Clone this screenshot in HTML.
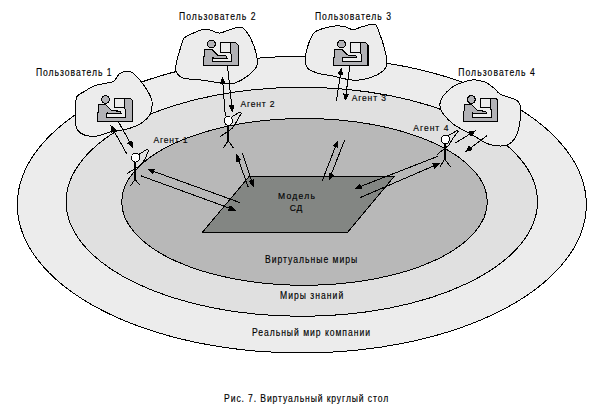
<!DOCTYPE html>
<html><head><meta charset="utf-8">
<style>
html,body{margin:0;padding:0;background:#fff;}
body{width:606px;height:412px;overflow:hidden;position:relative;}
svg{position:absolute;left:0;top:0;}
ellipse,path,line,rect,circle{shape-rendering:crispEdges;}
text{font-family:"Liberation Sans",sans-serif;font-size:10px;fill:#000;stroke:#000;stroke-width:0.15px;}
</style></head><body>
<svg width="606" height="412" viewBox="0 0 606 412">
<defs>
<g id="ic">
<path d="M0.85,-16.6 L7.8,-16.6 L14,-10.5 L22,-10 L23.3,-7.5 L9.7,-7.5 L9.2,-8.4 L8.9,-8 L8.9,-3.6 L27.6,-3.6 L27.6,-11.5 L26.7,-12.5 L26.7,-23 L32.2,-23 L34.5,-20.7 L34.5,0 L0,0 L-0.5,-3 Z" fill="#b2b2b6" stroke="#000" stroke-width="1.1"/>
<rect x="17" y="-23" width="9.7" height="9.5" fill="#ececec" stroke="#000" stroke-width="1.1"/>
<circle cx="7.6" cy="-21.7" r="3.9" fill="#b2b2b6" stroke="#000" stroke-width="1.1"/>
</g>
</defs>
<ellipse cx="301.8" cy="204.65" rx="284.5" ry="148.35" fill="#ececec" stroke="#000" stroke-width="1.0"/>
<ellipse cx="301.8" cy="201.8" rx="235.7" ry="114.5" fill="#e0e0e0" stroke="#000" stroke-width="1.0"/>
<ellipse cx="304.5" cy="201.9" rx="182.8" ry="83.4" fill="#b8b8b8" stroke="#000" stroke-width="1.0"/>
<path d="M249.5,176 L394.5,176 L347.5,232.5 L202.3,232.5 Z" fill="#838683" stroke="#000" stroke-width="1.0"/>
<path d="M124.60,71.40 C122.48,71.70 121.02,72.43 119.20,74.10 C117.38,75.77 115.83,79.88 113.70,81.40 C111.57,82.92 109.73,82.43 106.40,83.20 C103.07,83.97 97.33,84.63 93.70,86.00 C90.07,87.37 87.33,89.73 84.60,91.40 C81.87,93.07 78.82,93.73 77.30,96.00 C75.78,98.27 75.80,100.75 75.50,105.00 C75.20,109.25 75.20,117.38 75.50,121.50 C75.80,125.62 75.78,127.43 77.30,129.70 C78.82,131.97 81.27,134.05 84.60,135.10 C87.93,136.15 92.75,136.60 97.30,136.00 C101.85,135.40 106.73,132.70 111.90,131.50 C117.07,130.30 123.45,130.17 128.30,128.80 C133.15,127.43 137.37,125.73 141.00,123.30 C144.63,120.87 148.27,117.85 150.10,114.20 C151.93,110.55 152.30,105.05 152.00,101.40 C151.70,97.75 150.13,95.63 148.30,92.30 C146.47,88.97 143.73,84.73 141.00,81.40 C138.27,78.07 134.63,73.97 131.90,72.30 C129.17,70.63 126.72,71.10 124.60,71.40 Z" fill="#ececec" stroke="#000" stroke-width="1.0"/>
<path d="M184.10,38.20 C186.22,35.32 188.97,35.12 192.30,33.60 C195.63,32.08 200.77,29.55 204.10,29.10 C207.43,28.65 209.72,30.23 212.30,30.90 C214.88,31.57 216.87,33.25 219.60,33.10 C222.33,32.95 225.67,30.97 228.70,30.00 C231.73,29.03 235.37,27.60 237.80,27.30 C240.23,27.00 241.18,26.38 243.30,28.20 C245.42,30.02 248.38,34.10 250.50,38.20 C252.62,42.30 254.93,48.25 256.00,52.80 C257.07,57.35 257.82,62.02 256.90,65.50 C255.98,68.98 253.08,71.28 250.50,73.70 C247.92,76.12 244.43,78.33 241.40,80.00 C238.37,81.67 235.93,83.23 232.30,83.70 C228.67,84.17 224.75,83.42 219.60,82.80 C214.45,82.18 207.47,80.77 201.40,80.00 C195.33,79.23 187.30,79.40 183.20,78.20 C179.10,77.00 178.02,74.92 176.80,72.80 C175.58,70.68 175.43,69.15 175.90,65.50 C176.37,61.85 178.23,55.45 179.60,50.90 C180.97,46.35 181.98,41.08 184.10,38.20 Z" fill="#ececec" stroke="#000" stroke-width="1.0"/>
<path d="M314.60,32.30 C317.33,29.88 321.87,28.87 325.50,27.80 C329.13,26.73 333.07,26.07 336.40,25.90 C339.73,25.73 342.77,26.18 345.50,26.80 C348.23,27.42 350.07,29.60 352.80,29.60 C355.53,29.60 358.55,27.72 361.90,26.80 C365.25,25.88 370.47,24.25 372.90,24.10 C375.33,23.95 375.30,24.08 376.50,25.90 C377.70,27.72 378.88,31.65 380.10,35.00 C381.32,38.35 382.73,42.05 383.80,46.00 C384.87,49.95 386.20,55.07 386.50,58.70 C386.80,62.33 387.27,65.07 385.60,67.80 C383.93,70.53 380.45,73.12 376.50,75.10 C372.55,77.08 366.45,78.93 361.90,79.70 C357.35,80.47 354.05,80.32 349.20,79.70 C344.35,79.08 337.97,77.07 332.80,76.00 C327.63,74.93 322.45,74.67 318.20,73.30 C313.95,71.93 309.42,70.53 307.30,67.80 C305.18,65.07 305.20,61.15 305.50,56.90 C305.80,52.65 307.58,46.40 309.10,42.30 C310.62,38.20 311.87,34.72 314.60,32.30 Z" fill="#ececec" stroke="#000" stroke-width="1.0"/>
<path d="M460.60,83.10 C456.95,84.38 454.72,85.32 451.80,87.50 C448.88,89.68 445.10,93.30 443.10,96.20 C441.10,99.10 439.80,101.98 439.80,104.90 C439.80,107.82 440.73,110.42 443.10,113.70 C445.47,116.98 449.27,121.15 454.00,124.60 C458.73,128.05 465.67,131.13 471.50,134.40 C477.33,137.67 483.18,142.38 489.00,144.20 C494.82,146.02 502.03,146.38 506.40,145.30 C510.77,144.22 513.02,141.15 515.20,137.70 C517.38,134.25 518.60,129.70 519.50,124.60 C520.40,119.50 520.97,111.10 520.60,107.10 C520.23,103.10 519.30,102.23 517.30,100.60 C515.30,98.97 511.50,98.40 508.60,97.30 C505.70,96.20 502.45,95.63 499.90,94.00 C497.35,92.37 495.85,89.50 493.30,87.50 C490.75,85.50 487.87,83.28 484.60,82.00 C481.33,80.72 477.70,79.62 473.70,79.80 C469.70,79.98 464.25,81.82 460.60,83.10 Z" fill="#ececec" stroke="#000" stroke-width="1.0"/>
<use href="#ic" transform="translate(97.9,121.2) scale(1,1)"/>
<use href="#ic" transform="translate(203.9,65.5) scale(0.99,0.99)"/>
<use href="#ic" transform="translate(334.0,65.2) scale(0.985,0.97)"/>
<use href="#ic" transform="translate(463.8,121.2) scale(0.99,1.0)"/>
<g stroke="#000" stroke-width="1.0" fill="none">
<line x1="126.80" y1="153.80" x2="113.60" y2="130.46"/><path d="M110.40,124.80 L116.70,129.85 L111.48,132.81 Z" fill="#000" stroke="none"/>
<line x1="118.60" y1="122.10" x2="130.12" y2="142.63"/><path d="M133.30,148.30 L127.01,143.23 L132.25,140.29 Z" fill="#000" stroke="none"/>
<line x1="225.30" y1="116.00" x2="222.88" y2="83.18"/><path d="M222.40,76.70 L225.94,83.96 L219.96,84.40 Z" fill="#000" stroke="none"/>
<line x1="227.50" y1="66.50" x2="231.80" y2="105.94"/><path d="M232.50,112.40 L228.71,105.27 L234.67,104.62 Z" fill="#000" stroke="none"/>
<line x1="336.50" y1="100.60" x2="340.45" y2="73.73"/><path d="M341.40,67.30 L343.28,75.16 L337.34,74.28 Z" fill="#000" stroke="none"/>
<line x1="349.90" y1="65.50" x2="345.88" y2="94.76"/><path d="M345.00,101.20 L343.05,93.36 L348.99,94.18 Z" fill="#000" stroke="none"/>
<line x1="240.00" y1="202.60" x2="153.11" y2="171.21"/><path d="M147.00,169.00 L155.07,168.73 L153.03,174.37 Z" fill="#000" stroke="none"/>
<line x1="140.90" y1="175.80" x2="229.89" y2="208.27"/><path d="M236.00,210.50 L227.93,210.75 L229.98,205.11 Z" fill="#000" stroke="none"/>
<line x1="248.30" y1="187.30" x2="238.50" y2="160.12"/><path d="M236.30,154.00 L241.66,160.04 L236.02,162.07 Z" fill="#000" stroke="none"/>
<line x1="242.30" y1="152.70" x2="251.67" y2="181.13"/><path d="M253.70,187.30 L248.50,181.12 L254.20,179.24 Z" fill="#000" stroke="none"/>
<line x1="322.00" y1="181.30" x2="335.65" y2="146.06"/><path d="M338.00,140.00 L338.09,148.08 L332.49,145.91 Z" fill="#000" stroke="none"/>
<line x1="344.70" y1="140.00" x2="331.08" y2="174.65"/><path d="M328.70,180.70 L328.65,172.62 L334.24,174.82 Z" fill="#000" stroke="none"/>
<line x1="437.60" y1="156.40" x2="360.15" y2="186.64"/><path d="M354.10,189.00 L360.00,183.48 L362.18,189.07 Z" fill="#000" stroke="none"/>
<line x1="360.40" y1="197.50" x2="434.33" y2="165.67"/><path d="M440.30,163.10 L434.60,168.82 L432.22,163.31 Z" fill="#000" stroke="none"/>
<line x1="455.30" y1="143.00" x2="470.46" y2="133.70"/><path d="M476.00,130.30 L471.18,136.78 L468.04,131.67 Z" fill="#000" stroke="none"/>
<line x1="486.90" y1="135.80" x2="470.21" y2="148.22"/><path d="M465.00,152.10 L469.23,145.22 L472.81,150.03 Z" fill="#000" stroke="none"/>
</g>
<g stroke="#000" stroke-width="1.0" fill="none">
<path d="M135,162 L135,179.6" stroke-width="1.9"/>
<path d="M135,179.6 L130.3,186.1 M135,179.6 L140.5,185.4 M127.2,173.4 L139.6,166.1 L144.7,159.6 L148.7,150.5 L146.9,149.4 L138.8,154.5"/>
<ellipse cx="135.6" cy="157.6" rx="4" ry="4.5" fill="#fff"/>
<path d="M228.2,125.2 L228.2,140.6" stroke-width="1.9"/>
<path d="M228.2,140.6 L223.2,148.2 M228.2,140.6 L233.6,148.2 M220,136.7 L232,128.5 L237,121 L241.3,113.2 L240,112.1 L232,116.5"/>
<ellipse cx="228.4" cy="120.8" rx="4.1" ry="4.4" fill="#fff"/>
<path d="M444.6,143.7 L444.6,158.8" stroke-width="1.9"/>
<path d="M444.6,158.8 L440.2,166.7 M444.6,158.8 L450.5,166.7 M437.1,154.6 L449,145 L453,138 L458.2,131.5 L457,130.5 L448,135.8"/>
<ellipse cx="445.4" cy="139.4" rx="4" ry="4.25" fill="#fff"/>
</g>
<text transform="translate(35.9,76.4) scale(0.86,1)" x="0" y="0" textLength="87.91" lengthAdjust="spacing">Пользователь 1</text>
<text transform="translate(179,20.2) scale(0.86,1)" x="0" y="0" textLength="89.07" lengthAdjust="spacing">Пользователь 2</text>
<text transform="translate(314.9,20.2) scale(0.86,1)" x="0" y="0" textLength="88.49" lengthAdjust="spacing">Пользователь 3</text>
<text transform="translate(458.2,76.1) scale(0.86,1)" x="0" y="0" textLength="89.07" lengthAdjust="spacing">Пользователь 4</text>
<text transform="translate(153.4,143.2) scale(0.95,1)" x="0" y="0" textLength="35.89" lengthAdjust="spacing" style="font-size:9px">Агент 1</text>
<text transform="translate(240.4,106.6) scale(0.95,1)" x="0" y="0" textLength="36.00" lengthAdjust="spacing" style="font-size:9px">Агент 2</text>
<text transform="translate(351.7,100.6) scale(0.95,1)" x="0" y="0" textLength="36.00" lengthAdjust="spacing" style="font-size:9px">Агент 3</text>
<text transform="translate(413.3,131.4) scale(0.95,1)" x="0" y="0" textLength="36.95" lengthAdjust="spacing" style="font-size:9px">Агент 4</text>
<text transform="translate(277.9,199.1) scale(0.95,1)" x="0" y="0" textLength="39.05" lengthAdjust="spacing" style="font-size:9px">Модель</text>
<text transform="translate(289.8,211.4) scale(0.95,1)" x="0" y="0" textLength="13.26" lengthAdjust="spacing" style="font-size:9px">СД</text>
<text transform="translate(265,262.5) scale(0.86,1)" x="0" y="0" textLength="107.21" lengthAdjust="spacing">Виртуальные миры</text>
<text transform="translate(280,299.2) scale(0.86,1)" x="0" y="0" textLength="73.49" lengthAdjust="spacing">Миры знаний</text>
<text transform="translate(251.9,335.6) scale(0.86,1)" x="0" y="0" textLength="137.33" lengthAdjust="spacing">Реальный мир компании</text>
<text transform="translate(224.1,401.5) scale(0.86,1)" x="0" y="0" textLength="190.81" lengthAdjust="spacing">Рис. 7. Виртуальный круглый стол</text>
</svg>
</body></html>
